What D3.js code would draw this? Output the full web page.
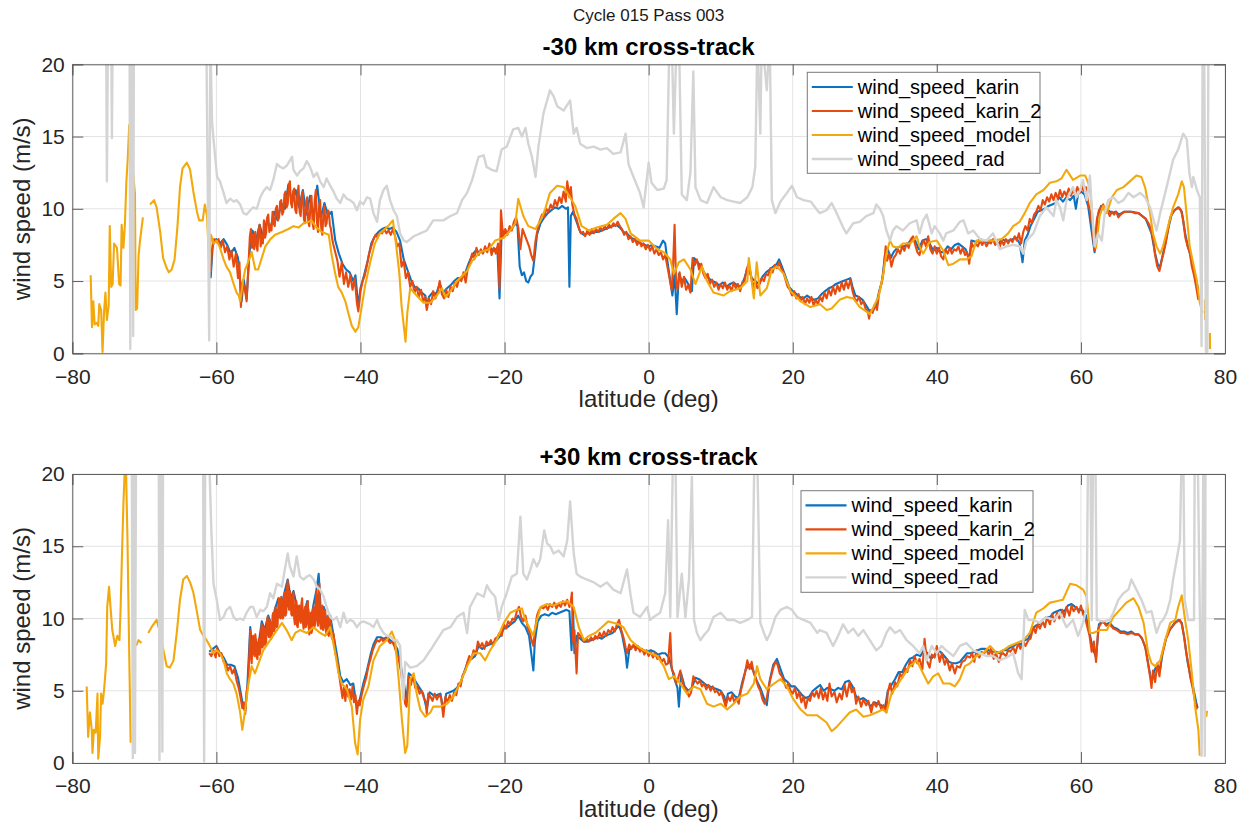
<!DOCTYPE html>
<html>
<head>
<meta charset="utf-8">
<script src="https://cdn.jsdelivr.net/npm/d3@7"></script>
<style>
body{margin:0;background:#ffffff;}
svg{display:block;font-family:"Liberation Sans",Arial,Helvetica,sans-serif;}
</style>
</head>
<body>
<svg id="fig"></svg>
<script>
//tick values and names
var xTicks = [-80,-60,-40,-20,0,20,40,60,80]
var yTicks = [0,5,10,15,20]
var seriesNames = ["wind_speed_karin","wind_speed_karin_2","wind_speed_model","wind_speed_rad"]
var panelTitles = ["-30 km cross-track","+30 km cross-track"]
var figTitle = "Cycle 015 Pass 003"

//-30 km cross-track  [latitude, wind speed]
var karinMinus = [
[-60.8,5.2],[-60.5,7.5],[-60.0,7.9],[-59.5,7.6],[-59.0,7.9],[-58.5,7.5],[-58.0,6.9],[-57.5,7.3],[-57.0,6.6],[-56.7,5.0],
[-56.5,3.6],[-56.2,5.1],[-55.8,3.8],[-55.4,7.0],[-55.0,8.5],[-54.5,7.8],[-54.0,8.9],[-53.5,8.0],[-53.0,9.2],[-52.5,8.6],
[-52.0,9.8],[-51.5,9.2],[-51.0,10.4],[-50.5,10.0],[-50.0,11.7],[-49.5,10.4],[-49.0,11.3],[-48.5,10.1],[-48.0,11.3],[-47.5,9.6],
[-47.0,10.9],[-46.5,9.4],[-46.0,11.6],[-45.5,9.4],[-45.0,10.4],[-44.5,9.5],[-44.0,9.8],[-43.5,7.8],[-43.0,6.9],[-42.5,6.2],
[-42.0,5.8],[-41.5,5.6],[-41.0,5.0],[-40.7,5.4],[-40.3,3.2],[-40.0,4.5],[-39.5,5.4],[-39.0,6.4],[-38.5,7.6],[-38.0,8.1],
[-37.5,8.4],[-37.0,8.6],[-36.5,8.7],[-36.0,8.6],[-35.5,8.7],[-35.0,8.4],[-34.5,7.8],[-34.0,6.5],[-33.5,5.8],[-33.0,5.1],
[-32.5,4.6],[-32.0,4.5],[-31.5,4.2],[-31.0,4.0],[-30.8,3.2],[-30.5,3.9],[-30.0,4.2],[-29.5,4.1],[-29.0,4.8],[-28.5,4.2],
[-28.0,4.5],[-27.5,4.7],[-27.0,5.0],[-26.5,5.2],[-26.0,5.2],[-25.5,5.5],[-25.0,6.2],[-24.5,6.8],[-24.0,7.1],[-23.5,7.0],
[-23.0,7.0],[-22.5,7.2],[-22.0,7.3],[-21.5,7.1],[-21.0,7.3],[-20.7,3.8],[-20.4,8.6],[-20.0,8.3],[-19.5,8.4],[-19.0,8.6],
[-18.5,9.0],[-18.2,8.8],[-17.9,6.0],[-17.6,5.4],[-17.3,5.6],[-17.0,5.0],[-16.7,4.9],[-16.4,5.3],[-16.1,5.5],[-15.8,6.8],
[-15.5,8.2],[-15.0,9.0],[-14.5,9.4],[-14.0,9.7],[-13.5,9.9],[-13.0,10.1],[-12.5,10.0],[-12.0,10.2],[-11.5,10.0],[-11.2,10.1],
[-11.0,4.6],[-10.8,9.5],[-10.5,9.8],[-10.0,9.1],[-9.5,8.4],[-9.0,8.2],[-8.5,8.3],[-8.0,8.3],[-7.5,8.4],[-7.0,8.4],
[-6.5,8.5],[-6.0,8.6],[-5.5,8.7],[-5.0,8.8],[-4.5,8.9],[-4.0,8.7],[-3.5,8.4],[-3.0,8.3],[-2.5,8.0],[-2.0,7.9],
[-1.5,7.7],[-1.0,7.6],[-0.5,7.5],[0.0,7.4],[0.5,7.5],[1.0,7.4],[1.5,7.3],[2.0,7.8],[2.3,7.6],[2.6,6.4],
[3.0,5.0],[3.3,4.0],[3.6,5.5],[3.9,2.7],[4.2,5.5],[4.6,5.0],[5.0,5.2],[5.5,4.8],[6.0,4.3],[6.3,6.6],
[6.8,6.3],[7.3,6.0],[7.8,5.5],[8.3,5.2],[8.8,5.0],[9.3,4.9],[9.8,4.7],[10.3,4.9],[10.8,4.6],[11.3,4.8],
[11.8,4.9],[12.3,4.7],[12.8,4.6],[13.3,5.2],[13.8,6.0],[14.3,5.2],[14.8,5.0],[15.3,4.8],[15.8,5.3],[16.3,5.6],
[16.8,5.8],[17.3,6.0],[17.8,6.2],[18.1,6.5],[18.5,6.0],[19.0,5.3],[19.5,4.6],[20.0,4.3],[20.5,4.1],[21.0,3.9],
[21.5,3.8],[22.0,4.0],[22.5,3.8],[23.0,3.7],[23.5,3.8],[24.0,4.1],[24.5,4.3],[25.0,4.5],[25.5,4.6],[26.0,4.8],
[26.5,4.9],[27.0,5.0],[27.5,5.1],[28.0,5.2],[28.3,4.6],[28.7,4.0],[29.2,3.9],[29.7,3.7],[30.2,3.3],[30.7,2.9],
[31.2,3.0],[31.6,3.4],[32.0,4.3],[32.4,5.0],[32.8,6.8],[33.2,7.2],[33.6,6.6],[34.0,7.0],[34.5,7.3],[35.0,7.4],
[35.5,7.4],[36.0,7.6],[36.5,7.9],[37.0,7.8],[37.5,7.2],[38.0,7.8],[38.5,7.9],[39.0,7.6],[39.5,7.1],[40.0,7.3],
[40.5,7.0],[41.0,7.0],[41.5,7.4],[42.0,7.2],[42.5,7.5],[43.0,7.6],[43.5,7.4],[44.0,7.2],[44.5,6.5],[44.8,7.8],
[45.5,7.7],[46.0,7.9],[46.5,7.8],[47.0,7.7],[47.5,7.8],[48.0,7.8],[48.5,7.5],[49.0,7.9],[49.5,7.8],[50.0,7.8],
[50.5,7.9],[51.0,8.0],[51.5,7.6],[51.9,6.3],[52.2,7.8],[52.6,8.2],[53.0,8.8],[53.5,9.3],[54.0,9.8],[54.5,9.9],
[55.0,10.0],[55.5,10.2],[56.0,10.3],[56.5,10.4],[57.0,10.8],[57.5,10.5],[58.0,10.8],[58.5,10.6],[59.0,10.9],[59.3,10.0],
[59.6,11.0],[60.0,11.2],[60.5,11.0],[61.0,10.2],[61.5,8.4],[61.9,7.0],[62.3,9.4],[62.8,10.2],[63.3,10.0],[63.8,9.9],
[64.3,9.7],[64.8,9.8],[65.3,9.6],[66.0,9.8],[67.0,9.8],[68.0,9.7],[69.0,9.3],[69.8,8.3],[70.3,6.9],[70.7,6.1],
[71.0,6.0],[71.4,6.9],[71.8,7.8],[72.2,8.8],[72.6,9.6],[73.0,9.9],[73.5,10.1],[74.0,9.8],[74.5,8.2],[74.9,7.3],
[75.3,6.6],[75.7,5.8],[76.0,5.0],[76.3,4.4]
]

var karin2Minus = [
[-60.8,5.6],[-60.6,7.2],[-60.3,7.9],[-60.0,7.7],[-59.7,7.9],[-59.4,7.3],[-59.1,7.8],[-58.8,7.0],[-58.5,7.4],[-58.2,6.5],
[-57.9,7.1],[-57.6,6.0],[-57.3,6.9],[-57.0,5.2],[-56.8,6.3],[-56.6,3.2],[-56.4,4.9],[-56.1,4.6],[-55.8,3.6],
[-55.5,6.6],[-55.35,8.1],[-55.2,8.6],[-55.05,7.3],[-54.9,8.2],[-54.75,7.2],[-54.6,8.4],[-54.45,7.5],[-54.3,7.1],[-54.15,8.5],
[-54.0,8.9],[-53.85,7.4],[-53.7,8.2],[-53.55,7.6],[-53.4,9.2],[-53.25,8.0],[-53.1,8.3],[-52.95,9.4],[-52.8,9.6],[-52.65,8.4],
[-52.5,8.9],[-52.35,8.5],[-52.2,9.8],[-52.05,9.0],[-51.9,8.8],[-51.75,10.0],[-51.6,10.2],[-51.45,9.2],[-51.3,9.4],[-51.15,10.5],
[-51.0,10.6],[-50.85,9.6],[-50.7,9.8],[-50.55,11.0],[-50.4,11.2],[-50.25,10.1],[-50.1,10.3],[-49.95,11.6],[-49.8,11.9],[-49.65,10.4],
[-49.5,10.1],[-49.35,11.2],[-49.2,11.4],[-49.05,9.9],[-48.9,9.7],[-48.75,11.0],[-48.6,11.6],[-48.45,9.8],[-48.3,9.5],[-48.15,10.9],
[-48.0,11.2],[-47.85,9.3],[-47.7,9.0],[-47.55,10.4],[-47.4,10.8],[-47.25,9.1],[-47.1,8.8],[-46.95,10.2],[-46.8,10.9],[-46.65,9.0],
[-46.5,8.6],[-46.35,10.6],[-46.2,11.3],[-46.05,9.2],[-45.9,8.4],[-45.75,10.1],[-45.6,10.6],[-45.45,8.7],[-45.3,8.2],[-45.15,9.6],
[-45.0,10.2],[-44.85,8.8],[-44.7,9.0],[-44.55,9.9],[-44.4,9.8],[-44.25,8.9],[-44.1,8.6],[-43.95,8.0],[-43.8,7.6],[-43.5,7.0],
[-43.2,6.4],[-42.9,5.3],[-42.6,6.3],[-42.3,4.8],[-42.0,5.6],[-41.7,4.6],[-41.4,5.4],[-41.1,4.4],[-40.8,5.2],[-40.5,3.5],
[-40.3,2.9],[-40.0,4.3],[-39.7,5.0],[-39.4,5.4],[-39.1,6.1],[-38.8,6.9],[-38.5,7.4],[-38.2,7.9],[-37.9,8.2],[-37.6,8.0],
[-37.3,8.4],[-37.0,8.3],[-36.7,8.6],[-36.4,8.3],[-36.1,8.5],[-35.8,8.2],[-35.5,8.6],[-35.2,8.1],[-34.9,7.4],[-34.6,7.6],
[-34.3,6.0],[-34.0,6.4],[-33.7,5.2],[-33.4,5.6],[-33.1,4.6],[-32.8,5.0],[-32.5,4.2],[-32.2,4.6],[-31.9,3.9],[-31.6,4.4],
[-31.3,3.6],[-31.0,3.9],[-30.8,3.0],[-30.5,3.8],[-30.2,3.4],[-29.9,4.3],[-29.6,3.8],[-29.3,4.2],[-29.0,5.0],[-28.7,4.1],
[-28.4,3.8],[-28.1,4.4],[-27.8,3.9],[-27.5,4.6],[-27.2,4.3],[-26.9,4.9],[-26.6,4.6],[-26.3,5.2],[-26.0,5.0],[-25.7,5.6],
[-25.4,4.9],[-25.1,5.9],[-24.8,6.3],[-24.5,6.9],[-24.2,6.5],[-23.9,7.3],[-23.6,6.8],[-23.3,7.2],[-23.0,6.9],[-22.7,7.4],
[-22.4,7.0],[-22.1,7.6],[-21.8,6.8],[-21.5,7.3],[-21.2,6.9],[-20.9,7.6],[-20.7,4.5],[-20.5,9.9],[-20.2,8.0],[-19.9,8.6],
[-19.6,8.2],[-19.3,8.8],[-19.0,8.5],[-18.7,9.1],[-18.4,9.4],[-18.1,8.7],[-17.8,7.2],[-17.5,8.6],[-17.2,8.2],[-16.9,7.8],
[-16.6,7.4],[-16.3,6.8],[-16.0,6.4],[-15.7,7.8],[-15.4,8.6],[-15.1,9.2],[-14.8,9.6],[-14.5,9.4],[-14.2,10.0],[-13.9,9.8],
[-13.6,10.3],[-13.3,10.0],[-13.0,10.6],[-12.7,10.2],[-12.4,10.8],[-12.1,10.4],[-11.8,11.2],[-11.5,10.5],[-11.3,11.9],[-11.0,10.8],
[-10.8,11.5],[-10.6,10.3],[-10.3,9.6],[-10.0,9.3],[-9.7,8.7],[-9.4,8.3],[-9.1,8.4],[-8.8,8.1],[-8.5,8.5],[-8.2,8.2],
[-7.9,8.6],[-7.6,8.3],[-7.3,8.6],[-7.0,8.4],[-6.7,8.7],[-6.4,8.5],[-6.1,8.8],[-5.8,8.6],[-5.5,8.9],[-5.2,8.7],
[-4.9,9.0],[-4.6,8.8],[-4.3,9.1],[-4.0,8.8],[-3.7,8.6],[-3.4,8.2],[-3.1,8.4],[-2.8,7.9],[-2.5,8.1],[-2.2,7.7],
[-1.9,7.9],[-1.6,7.5],[-1.3,7.8],[-1.0,7.4],[-0.7,7.6],[-0.4,7.2],[-0.1,7.5],[0.2,7.1],[0.5,7.4],[0.8,6.9],
[1.1,7.2],[1.4,6.8],[1.7,7.0],[2.0,6.5],[2.3,6.8],[2.6,6.0],[2.9,5.2],[3.2,4.4],[3.4,6.2],[3.6,8.9],
[3.8,5.0],[4.0,4.4],[4.3,5.6],[4.6,4.6],[4.9,5.3],[5.2,4.4],[5.5,4.7],[5.8,4.2],[6.1,6.6],[6.4,6.1],
[6.7,6.5],[7.0,5.8],[7.3,6.2],[7.6,5.5],[7.9,5.2],[8.2,5.5],[8.5,4.8],[8.8,5.1],[9.1,4.6],[9.4,4.9],
[9.7,4.4],[10.0,4.8],[10.3,4.5],[10.6,4.9],[10.9,4.4],[11.2,4.7],[11.5,4.3],[11.8,4.9],[12.1,4.5],[12.4,4.8],
[12.7,4.3],[13.0,4.9],[13.3,5.0],[13.6,5.8],[13.9,6.2],[14.2,5.4],[14.5,4.6],[14.8,5.0],[15.1,4.5],[15.4,4.8],
[15.7,5.2],[16.0,5.0],[16.3,5.5],[16.6,5.4],[16.9,5.9],[17.2,5.6],[17.5,6.1],[17.8,5.9],[18.1,6.3],[18.4,5.9],
[18.7,5.6],[19.0,5.1],[19.3,4.6],[19.6,4.4],[19.9,4.0],[20.2,4.3],[20.5,3.8],[20.8,4.1],[21.1,3.6],[21.4,3.9],
[21.7,3.4],[22.0,3.8],[22.3,3.5],[22.6,3.9],[22.9,3.3],[23.2,3.7],[23.5,3.4],[23.8,3.9],[24.1,3.6],[24.4,4.2],
[24.7,3.8],[25.0,4.4],[25.3,4.0],[25.6,4.6],[25.9,4.1],[26.2,4.7],[26.5,4.3],[26.8,4.9],[27.1,4.4],[27.4,5.0],
[27.7,4.5],[28.0,5.1],[28.3,4.3],[28.6,3.8],[28.9,3.6],[29.2,3.9],[29.5,3.4],[29.8,3.6],[30.1,3.1],[30.4,2.9],
[30.6,2.4],[30.8,3.0],[31.1,2.8],[31.4,3.4],[31.7,3.0],[32.0,4.2],[32.3,4.8],[32.6,5.6],[32.9,7.4],[33.1,6.4],
[33.4,6.9],[33.7,6.0],[34.0,6.6],[34.3,6.8],[34.6,7.2],[34.9,6.9],[35.2,7.4],[35.5,7.1],[35.8,7.6],[36.1,7.3],
[36.4,7.9],[36.7,8.1],[37.0,7.5],[37.3,7.0],[37.6,6.8],[37.9,7.5],[38.2,7.8],[38.5,7.4],[38.8,8.1],[39.1,7.2],
[39.4,6.9],[39.7,7.4],[40.0,6.9],[40.3,7.3],[40.6,6.7],[40.9,6.5],[41.2,7.2],[41.5,6.9],[41.8,7.3],[42.1,6.9],
[42.4,7.2],[42.7,7.1],[43.0,7.4],[43.3,6.9],[43.6,7.3],[43.9,6.8],[44.2,7.0],[44.5,6.2],[44.8,7.7],[45.1,7.3],
[45.4,7.6],[45.7,7.4],[46.0,7.8],[46.3,7.5],[46.6,7.8],[46.9,7.4],[47.2,7.7],[47.5,7.6],[47.8,7.9],[48.1,7.5],
[48.4,7.7],[48.7,7.3],[49.0,7.8],[49.3,7.5],[49.6,7.9],[49.9,7.6],[50.2,7.9],[50.5,7.7],[50.8,8.1],[51.1,7.8],
[51.4,8.3],[51.7,7.6],[52.0,8.4],[52.3,8.8],[52.6,8.5],[52.9,9.3],[53.2,9.0],[53.5,9.6],[53.8,9.8],[54.1,10.2],
[54.4,9.9],[54.7,10.6],[55.0,10.3],[55.3,10.8],[55.6,10.5],[55.9,11.0],[56.2,10.6],[56.5,11.1],[56.8,10.7],[57.1,11.3],
[57.4,10.8],[57.7,11.2],[58.0,10.9],[58.3,11.4],[58.6,10.9],[58.9,11.3],[59.2,11.0],[59.5,11.5],[59.8,11.1],[60.1,11.6],
[60.4,11.2],[60.7,11.5],[61.0,10.4],[61.3,9.8],[61.6,8.6],[61.9,7.1],[62.2,9.2],[62.5,9.9],[62.8,10.1],[63.1,10.3],
[63.4,9.7],[63.7,9.9],[64.0,9.5],[64.3,9.8],[64.6,9.6],[64.9,9.8],[65.2,9.4],[65.5,9.6],[65.8,9.7],[66.1,9.8],
[66.5,9.8],[67.0,9.8],[67.5,9.7],[68.0,9.7],[68.5,9.5],[69.0,9.3],[69.5,8.9],[70.0,8.0],[70.3,6.8],[70.6,6.0],
[70.9,5.7],[71.2,6.4],[71.5,7.0],[71.8,7.7],[72.1,8.6],[72.4,9.4],[72.7,9.7],[73.0,9.9],[73.3,10.0],[73.6,10.1],
[73.9,9.9],[74.2,9.2],[74.5,8.0],[74.8,7.4],[75.1,7.0],[75.4,6.0],[75.7,5.4],[76.0,4.6],[76.3,3.7]
]

var modelMinus = [
[-77.45,5.4],[-77.27,1.8],[-77.08,3.6],[-76.9,2.0],[-76.6,2.1],[-76.4,1.9],[-76.25,3.4],[-76.0,3.0],[-75.8,0.1],[-75.6,2.8],
[-75.4,4.2],[-75.2,2.3],[-74.95,3.3],[-74.8,8.8],[-74.6,4.6],[-74.4,4.8],[-74.2,7.6],[-73.8,7.3],[-73.5,4.8],[-73.3,4.7],
[-73.15,8.9],[-72.9,7.3],[-72.7,8.9],[-72.5,11.8],[-72.3,13.5],[-72.1,15.8],[-71.3,11.0],[-71.2,3.0],[-71.0,3.1],[-70.8,6.8],
[-70.6,7.8],[-70.2,9.4],[-69.8,null],[-69.2,10.3],[-68.65,10.6],[-68.3,10.1],[-67.8,8.4],[-67.4,6.6],[-66.9,5.9],[-66.6,5.6],
[-66.2,5.8],[-65.8,6.5],[-65.4,8.8],[-65.05,11.5],[-64.7,12.8],[-64.1,13.2],[-63.65,12.7],[-63.2,11.2],[-62.7,9.8],[-62.4,9.2],
[-61.9,9.2],[-61.6,10.3],[-61.3,9.5],[-61.0,6.2],[-60.75,8.2],[-60.4,7.6],[-59.95,7.8],[-59.5,7.3],[-59.0,6.5],[-58.6,6.0],
[-58.1,5.6],[-57.6,4.8],[-57.2,4.2],[-56.9,4.0],[-56.7,3.6],[-56.3,5.0],[-56.0,5.8],[-55.6,6.3],[-55.1,7.0],[-54.6,5.8],
[-54.2,5.8],[-53.7,6.6],[-53.2,7.4],[-52.5,7.9],[-51.85,8.2],[-50.9,8.4],[-50.0,8.6],[-49.3,8.8],[-48.6,8.7],[-47.9,9.0],
[-47.2,9.1],[-46.8,9.2],[-46.1,8.7],[-45.4,8.4],[-44.4,8.2],[-44.0,6.8],[-43.5,5.5],[-43.1,4.6],[-42.6,4.2],[-42.1,3.6],
[-41.7,2.8],[-41.2,1.9],[-40.7,1.5],[-40.3,1.8],[-39.8,3.3],[-39.35,4.7],[-38.65,6.3],[-38.0,7.6],[-37.3,8.3],[-36.6,8.6],
[-36.0,8.9],[-35.5,9.2],[-35.05,7.5],[-34.6,5.5],[-34.3,3.3],[-33.9,1.5],[-33.75,0.8],[-33.5,2.8],[-33.1,4.5],[-32.2,4.0],
[-31.25,3.5],[-30.3,3.5],[-29.4,4.0],[-28.7,4.5],[-28.2,3.9],[-27.5,4.3],[-26.6,5.0],[-25.2,5.7],[-24.5,6.4],[-23.4,7.0],
[-22.2,7.2],[-21.3,7.8],[-20.1,8.0],[-19.2,8.5],[-18.5,9.0],[-18.1,10.7],[-17.4,9.5],[-16.7,8.8],[-15.7,8.6],[-15.0,9.2],
[-14.35,10.0],[-13.7,11.1],[-12.7,11.6],[-11.8,11.5],[-10.9,10.8],[-10.2,10.2],[-9.3,8.8],[-8.3,8.5],[-7.2,8.7],[-5.8,8.9],
[-4.9,9.3],[-3.9,9.7],[-3.2,9.3],[-2.5,8.3],[-1.2,7.8],[0.0,7.8],[1.2,7.2],[2.1,7.0],[3.0,6.5],[3.5,5.5],
[4.2,6.3],[4.9,6.5],[5.8,5.8],[6.5,4.8],[7.4,6.0],[8.1,5.0],[9.0,4.2],[10.4,4.0],[11.3,4.3],[12.7,4.5],
[13.7,5.0],[13.9,6.6],[14.6,3.8],[15.0,6.3],[15.5,4.0],[16.4,4.5],[17.1,5.8],[17.8,6.0],[18.75,5.5],[19.7,4.3],
[21.1,3.6],[22.45,3.2],[23.8,3.4],[24.7,3.0],[25.4,3.1],[26.5,3.7],[27.5,3.9],[28.4,3.8],[29.3,3.2],[30.2,2.9],
[30.7,2.7],[31.2,3.2],[31.9,3.9],[32.5,5.3],[33.0,6.9],[33.5,7.8],[33.9,7.4],[34.6,7.3],[35.3,7.6],[36.3,7.6],
[37.2,8.1],[37.6,7.4],[38.1,6.9],[39.0,7.7],[40.0,7.8],[40.9,7.1],[41.6,6.1],[42.3,6.2],[43.2,6.5],[44.1,6.5],
[44.8,6.7],[45.5,7.8],[46.9,7.8],[47.8,7.8],[49.0,7.9],[49.9,8.3],[50.6,8.8],[51.5,9.1],[52.2,9.7],[52.9,10.4],
[53.8,11.0],[54.8,11.3],[55.7,11.8],[56.6,11.9],[57.3,12.1],[58.0,12.7],[58.9,12.0],[59.9,12.3],[60.6,12.3],[61.25,11.5],
[61.7,8.8],[62.1,7.3],[62.6,9.5],[63.1,10.2],[63.6,9.7],[64.3,10.8],[65.0,11.3],[65.9,11.5],[66.8,11.9],[67.7,12.3],
[68.4,12.2],[68.9,11.5],[69.6,9.7],[70.0,8.3],[70.5,7.4],[71.0,6.9],[71.4,7.4],[72.1,8.8],[72.8,10.1],[73.5,11.0],
[74.0,11.9],[74.3,11.5],[74.7,9.5],[75.1,7.4],[75.6,6.2],[76.1,5.0],[76.5,3.5],[76.9,2.8],[77.05,null],[77.2,3.7],
[77.25,2.3],[77.5,null],[77.9,1.4],[77.92,0.3]
]

var radMinus = [
[-75.3,22],[-75.2,11.9],[-75.05,22],[-74.6,22],[-74.5,14.9],[-74.4,22],[-72.05,22],[-71.95,0.3],[-71.8,22],[-71.65,22],
[-71.55,1.2],[-71.45,22],[-61.4,22],[-61.0,0.9],[-60.85,22],[-60.6,16.0],[-60.4,14.8],[-59.9,12.2],[-59.5,11.9],[-59.0,11.1],
[-58.6,10.4],[-58.1,10.7],[-57.6,10.5],[-57.2,10.6],[-56.7,10.3],[-56.25,9.7],[-55.8,9.6],[-55.3,9.9],[-54.9,10.1],[-54.4,10.0],
[-53.9,10.8],[-53.5,11.2],[-53.0,11.5],[-52.55,11.3],[-52.1,12.0],[-51.6,13.1],[-51.15,12.9],[-50.7,12.8],[-50.2,13.0],[-49.5,13.6],
[-49.3,12.7],[-48.8,12.3],[-48.4,12.6],[-47.9,12.8],[-47.45,13.3],[-47.0,12.9],[-46.5,12.2],[-46.05,12.5],[-45.6,11.9],[-45.1,11.5],
[-44.7,12.1],[-44.2,11.6],[-43.75,11.2],[-43.3,10.7],[-42.8,10.4],[-42.35,11.0],[-41.9,10.7],[-41.45,10.6],[-40.95,10.4],[-40.5,9.9],
[-40.05,10.5],[-39.6,10.3],[-39.1,10.8],[-38.65,10.7],[-38.2,9.7],[-37.7,9.1],[-37.3,10.6],[-36.8,11.3],[-36.35,11.6],[-35.9,10.6],
[-35.4,9.9],[-34.95,9.5],[-34.5,8.3],[-34.0,7.8],[-33.55,7.7],[-32.6,8.1],[-31.7,8.3],[-30.8,8.5],[-29.9,9.2],[-28.5,9.2],
[-27.5,9.5],[-26.6,9.7],[-25.9,10.6],[-25.2,11.1],[-24.5,12.0],[-23.6,13.6],[-22.9,13.7],[-22.5,12.9],[-21.8,12.7],[-21.1,12.6],
[-20.4,14.1],[-19.7,14.3],[-18.8,15.5],[-18.1,15.6],[-17.6,15.0],[-17.1,15.6],[-16.7,14.5],[-16.2,13.6],[-15.7,12.2],[-15.3,14.3],
[-14.6,16.6],[-13.7,18.2],[-13.2,17.8],[-12.7,17.1],[-11.8,16.8],[-10.9,17.5],[-10.4,15.2],[-10.0,15.6],[-9.5,14.5],[-8.6,14.2],
[-7.6,14.3],[-6.7,14.1],[-5.8,14.2],[-4.9,13.8],[-3.9,13.9],[-3.2,15.2],[-2.8,13.1],[-2.1,12.2],[-1.2,11.1],[-0.7,10.1],
[0.0,13.2],[0.4,11.8],[1.2,11.3],[2.1,11.4],[2.5,12.0],[2.9,22],[3.2,22],[3.5,15.2],[3.9,22],[4.2,22],
[4.6,11.0],[5.3,10.6],[5.8,12.5],[6.2,19.5],[6.5,11.5],[7.2,10.6],[8.1,10.4],[9.0,11.5],[10.0,10.8],[10.9,10.6],
[11.8,10.5],[12.7,10.4],[13.7,10.8],[14.4,11.5],[14.8,12.9],[15.1,22],[15.5,15.2],[15.7,22],[16.4,18.2],[16.8,22],
[17.1,10.6],[17.6,9.7],[18.3,10.5],[19.2,11.1],[19.9,11.6],[20.6,10.8],[21.5,10.6],[22.5,10.5],[23.4,9.9],[23.75,9.7],
[24.7,9.9],[25.4,10.4],[26.1,9.7],[27.0,8.7],[27.45,8.3],[28.4,9.0],[29.3,9.1],[30.2,9.5],[31.2,9.7],[31.6,10.3],
[32.1,10.0],[32.55,9.5],[33.0,8.5],[33.5,7.8],[33.9,8.5],[34.4,8.8],[35.3,8.5],[36.25,9.0],[37.2,9.2],[37.6,8.3],
[38.1,9.2],[38.6,9.6],[39.3,8.3],[39.7,8.8],[40.4,8.3],[40.9,7.8],[41.3,8.3],[42.3,8.5],[43.2,9.1],[43.7,9.2],
[44.35,8.3],[45.05,8.5],[46.0,7.9],[46.9,7.8],[47.8,8.3],[48.75,7.2],[49.7,7.4],[50.6,7.5],[51.5,7.4],[52.0,6.9],
[52.45,7.8],[53.4,8.3],[54.3,9.5],[55.2,10.1],[56.2,9.5],[56.6,10.6],[57.1,10.1],[57.55,9.2],[58.0,10.6],[58.5,11.1],
[58.9,11.5],[59.4,10.8],[59.9,11.3],[60.3,12.0],[60.8,10.6],[61.25,12.3],[61.5,10.1],[61.9,7.4],[62.4,8.3],[62.9,7.8],
[63.3,9.7],[63.8,10.6],[64.5,10.8],[65.2,10.4],[65.9,10.6],[66.6,11.1],[67.3,10.8],[68.2,11.1],[68.9,10.8],[69.6,10.1],
[70.5,8.5],[71.0,9.7],[71.9,11.5],[72.8,13.4],[73.5,14.1],[74.2,15.2],[74.7,14.8],[75.05,12.5],[75.4,11.5],[75.6,12.2],
[76.1,11.3],[76.5,10.8],[76.75,0.5],[76.9,22],[77.1,22],[77.35,0.1],[77.55,0.1],[77.7,22],[77.8,22]
]

//+30 km cross-track  [latitude, wind speed]
var karinPlus = [
[-61.0,7.7],[-60.5,7.9],[-60.0,8.1],[-59.5,7.6],[-59.0,7.3],[-58.5,6.8],[-58.0,6.8],[-57.5,6.7],[-57.0,5.9],[-56.6,4.8],
[-56.3,3.9],[-56.0,3.6],[-55.7,5.4],[-55.3,9.4],[-55.0,7.6],[-54.6,8.6],[-54.2,8.0],[-53.7,9.8],[-53.3,9.2],[-52.8,10.2],
[-52.3,9.4],[-51.9,10.6],[-51.4,11.4],[-50.9,11.0],[-50.5,11.9],[-50.1,12.7],[-49.7,11.4],[-49.3,11.9],[-48.8,10.8],[-48.4,10.6],
[-47.9,10.1],[-47.4,11.2],[-47.0,9.6],[-46.5,11.0],[-46.1,12.0],[-45.8,13.1],[-45.5,10.4],[-45.1,10.8],[-44.7,9.8],[-44.2,10.2],
[-43.8,9.0],[-43.3,7.6],[-42.8,6.0],[-42.4,5.6],[-41.9,5.8],[-41.4,5.4],[-41.0,5.5],[-40.5,3.8],[-40.1,4.4],[-39.6,5.5],
[-39.1,6.4],[-38.6,7.5],[-38.2,8.2],[-37.7,8.7],[-37.2,8.7],[-36.8,8.6],[-36.3,8.7],[-35.9,8.5],[-35.4,8.3],[-34.9,7.9],
[-34.5,7.0],[-34.0,5.6],[-33.6,4.3],[-33.3,6.2],[-32.8,6.0],[-32.3,5.6],[-31.8,5.2],[-31.3,4.8],[-30.8,3.7],[-30.4,4.9],
[-29.9,4.7],[-29.4,4.7],[-28.9,4.8],[-28.5,3.6],[-28.1,4.8],[-27.6,4.9],[-27.1,5.0],[-26.6,5.2],[-26.1,5.6],[-25.6,6.3],
[-25.1,7.0],[-24.6,7.2],[-24.1,7.4],[-23.6,8.1],[-23.1,7.9],[-22.6,8.1],[-22.1,8.2],[-21.6,8.3],[-21.1,8.5],[-20.6,8.8],
[-20.1,9.3],[-19.6,9.4],[-19.1,9.6],[-18.6,9.8],[-18.1,10.2],[-17.6,9.7],[-17.1,9.4],[-16.6,8.8],[-16.2,7.2],[-16.0,6.4],
[-15.8,8.4],[-15.4,9.8],[-14.9,10.2],[-14.4,10.3],[-13.9,10.2],[-13.4,10.4],[-12.9,10.3],[-12.4,10.4],[-11.9,10.5],[-11.4,10.6],
[-11.0,10.5],[-10.7,7.8],[-10.5,10.6],[-10.3,7.6],[-10.0,8.8],[-9.5,8.6],[-9.0,8.4],[-8.5,8.4],[-8.0,8.5],[-7.5,8.6],
[-7.0,8.7],[-6.5,8.6],[-6.0,8.8],[-5.5,8.9],[-5.0,9.0],[-4.5,9.3],[-4.1,9.5],[-3.7,8.9],[-3.2,7.6],[-3.0,6.6],
[-2.7,7.8],[-2.2,8.1],[-1.7,8.0],[-1.2,7.9],[-0.7,7.8],[-0.2,7.7],[0.3,7.8],[0.8,7.7],[1.3,7.5],[1.8,7.6],
[2.3,7.6],[2.8,7.3],[3.2,6.6],[3.6,5.8],[4.0,5.2],[4.2,3.9],[4.5,6.2],[5.0,5.3],[5.5,5.0],[6.0,5.2],
[6.5,5.9],[7.0,5.8],[7.5,5.6],[8.0,5.4],[8.5,5.3],[9.0,5.2],[9.5,5.1],[10.0,5.0],[10.5,4.6],[10.7,4.0],
[11.0,4.8],[11.5,4.9],[12.0,4.6],[12.5,4.5],[13.0,5.6],[13.5,6.5],[14.0,6.8],[14.5,6.4],[15.0,5.7],[15.5,5.2],
[16.0,4.5],[16.4,4.0],[16.8,5.7],[17.3,6.8],[17.8,7.2],[18.3,6.5],[18.8,5.8],[19.3,5.6],[19.8,5.3],[20.3,5.3],
[20.8,5.0],[21.3,4.7],[21.8,4.5],[22.3,4.6],[22.8,5.0],[23.3,5.2],[23.8,5.4],[24.3,5.0],[24.8,5.2],[25.3,5.1],
[25.8,5.0],[26.3,5.2],[26.8,5.1],[27.3,5.6],[27.8,5.7],[28.3,5.3],[28.8,4.6],[29.3,4.4],[29.8,4.5],[30.3,4.3],
[30.8,3.9],[31.3,4.2],[31.8,4.1],[32.3,4.0],[32.8,3.8],[33.2,5.0],[33.7,5.4],[34.2,5.8],[34.7,6.3],[35.2,6.3],
[35.7,6.8],[36.2,7.2],[36.7,7.3],[37.2,7.5],[37.7,7.4],[38.2,7.8],[38.7,7.6],[39.2,7.2],[39.7,7.5],[40.2,7.8],
[40.7,7.6],[41.2,7.3],[41.7,7.0],[42.2,6.9],[42.7,6.9],[43.2,7.0],[43.7,7.3],[44.2,7.6],[44.7,7.6],[45.2,7.7],
[45.7,7.8],[46.2,7.9],[46.7,7.9],[47.2,7.8],[47.7,7.7],[48.2,7.7],[48.7,7.6],[49.2,7.8],[49.7,7.8],[50.2,8.0],
[50.7,8.1],[51.2,8.3],[51.7,8.2],[52.2,8.5],[52.7,8.6],[53.2,9.2],[53.7,9.5],[54.2,9.6],[54.7,9.9],[55.2,10.1],
[55.7,10.1],[56.2,10.4],[56.7,10.5],[57.2,10.6],[57.7,10.5],[58.2,10.9],[58.7,11.0],[59.2,10.8],[59.7,10.6],[60.2,10.6],
[60.7,10.2],[61.2,9.0],[61.6,8.0],[62.1,7.3],[62.5,9.6],[63.0,9.8],[63.5,9.6],[64.0,9.7],[64.5,9.4],[65.0,9.3],
[65.5,9.1],[66.0,9.1],[66.5,9.0],[67.0,9.1],[67.5,8.9],[68.0,8.9],[68.5,8.6],[69.0,7.9],[69.4,6.7],[69.8,5.6],
[70.2,6.4],[70.6,6.8],[71.0,6.5],[71.4,7.8],[71.8,8.6],[72.2,9.1],[72.6,9.4],[73.0,9.7],[73.5,9.9],[74.0,9.7],
[74.4,8.5],[74.8,7.0],[75.2,6.0],[75.6,5.2],[76.0,4.2],[76.2,3.8]
]

var karin2Plus = [
[-61.0,7.6],[-60.7,7.4],[-60.4,7.8],[-60.1,7.3],[-59.9,8.0],[-59.6,7.4],[-59.3,7.6],[-59.0,7.0],[-58.7,6.9],[-58.4,6.4],
[-58.1,6.7],[-57.8,6.2],[-57.5,6.5],[-57.2,5.7],[-56.9,5.2],[-56.6,4.4],[-56.4,3.8],[-56.2,4.2],[-56.0,3.4],[-55.8,4.9],
[-55.6,5.5],[-55.4,7.8],[-55.3,9.2],[-55.2,7.4],[-55.1,6.9],[-55.0,8.1],[-54.9,8.8],[-54.8,7.6],[-54.7,7.4],[-54.6,8.9],
[-54.5,8.4],[-54.4,7.3],[-54.3,7.2],[-54.2,8.2],[-54.1,8.6],[-54.0,7.5],[-53.9,7.8],[-53.8,9.1],[-53.7,9.6],[-53.6,8.0],
[-53.5,8.2],[-53.4,9.4],[-53.3,9.1],[-53.2,8.1],[-53.1,8.4],[-53.0,9.7],[-52.9,10.1],[-52.8,8.9],[-52.7,8.7],[-52.6,9.9],
[-52.5,9.5],[-52.4,8.6],[-52.3,8.9],[-52.2,10.2],[-52.1,10.4],[-52.0,9.1],[-51.9,9.3],[-51.8,10.8],[-51.7,10.6],[-51.6,9.4],
[-51.5,9.6],[-51.4,11.0],[-51.3,11.4],[-51.2,10.1],[-51.1,10.0],[-51.0,11.5],[-50.9,11.2],[-50.8,10.0],[-50.7,10.1],[-50.6,11.6],
[-50.5,11.8],[-50.4,10.2],[-50.3,10.4],[-50.2,12.0],[-50.1,12.6],[-50.0,10.9],[-49.9,10.6],[-49.8,11.9],[-49.7,11.6],[-49.6,10.3],
[-49.5,10.2],[-49.4,11.5],[-49.3,11.8],[-49.2,10.0],[-49.1,9.6],[-49.0,10.8],[-48.9,11.2],[-48.8,9.5],[-48.7,9.4],[-48.6,10.6],
[-48.5,10.9],[-48.4,9.9],[-48.3,9.7],[-48.2,11.0],[-48.1,11.4],[-48.0,9.8],[-47.9,9.3],[-47.8,10.4],[-47.7,10.8],[-47.6,9.4],
[-47.5,9.6],[-47.4,10.9],[-47.3,11.2],[-47.2,9.5],[-47.1,8.9],[-47.0,10.0],[-46.9,10.4],[-46.8,9.0],[-46.7,9.2],[-46.6,10.5],
[-46.5,10.8],[-46.4,9.4],[-46.3,9.6],[-46.2,11.2],[-46.1,11.9],[-46.0,9.9],[-45.9,9.5],[-45.8,11.6],[-45.7,12.4],[-45.6,9.7],
[-45.5,9.3],[-45.4,10.5],[-45.3,10.9],[-45.2,9.2],[-45.1,9.4],[-45.0,10.4],[-44.9,10.6],[-44.8,9.1],[-44.7,8.9],[-44.6,9.9],
[-44.5,10.2],[-44.4,8.8],[-44.3,9.0],[-44.2,9.9],[-44.1,9.7],[-44.0,8.7],[-43.9,8.6],[-43.8,9.0],[-43.7,8.8],
[-43.5,7.6],[-43.3,7.3],[-43.1,6.6],[-42.9,5.9],[-42.7,5.2],[-42.5,4.5],[-42.3,5.3],[-42.1,4.3],[-41.9,5.4],
[-41.7,4.6],[-41.5,5.1],[-41.3,4.4],[-41.1,5.3],[-40.9,4.2],[-40.7,4.7],[-40.5,3.4],[-40.3,4.3],[-40.1,4.0],[-39.8,4.8],
[-39.5,5.4],[-39.2,5.9],[-38.9,6.7],[-38.6,7.2],[-38.3,7.8],[-38.0,8.2],[-37.7,8.5],[-37.4,8.4],[-37.1,8.6],[-36.8,8.4],
[-36.5,8.6],[-36.2,8.5],[-35.9,8.3],[-35.6,8.4],[-35.3,8.1],[-35.0,7.6],[-34.7,7.2],[-34.4,6.4],[-34.1,5.3],[-33.8,4.1],
[-33.6,3.9],[-33.3,6.0],[-33.0,5.4],[-32.7,6.1],[-32.4,5.2],[-32.1,5.3],[-31.8,4.8],[-31.5,5.0],[-31.2,4.5],[-30.9,4.2],
[-30.8,3.4],[-30.6,4.8],[-30.3,4.6],[-30.0,4.3],[-29.7,4.8],[-29.4,4.4],[-29.1,4.7],[-28.8,4.5],[-28.5,3.2],[-28.2,4.6],
[-27.9,4.2],[-27.6,4.7],[-27.3,4.3],[-27.0,4.9],[-26.7,4.7],[-26.4,5.5],[-26.1,5.3],[-25.8,6.1],[-25.5,6.3],[-25.2,6.9],
[-24.9,7.4],[-24.6,7.2],[-24.3,7.8],[-24.0,7.5],[-23.7,8.4],[-23.4,8.0],[-23.1,8.3],[-22.8,7.9],[-22.5,8.4],[-22.2,8.2],
[-21.9,8.5],[-21.6,8.1],[-21.3,8.6],[-21.0,8.7],[-20.7,9.0],[-20.4,8.8],[-20.1,9.6],[-19.8,9.3],[-19.5,9.8],[-19.2,9.6],
[-18.9,10.0],[-18.6,9.9],[-18.3,10.5],[-18.0,10.8],[-17.7,10.1],[-17.4,9.8],[-17.1,10.2],[-16.8,9.4],[-16.5,9.0],[-16.2,8.4],
[-16.0,8.1],[-15.8,9.1],[-15.5,10.2],[-15.2,10.6],[-14.9,10.8],[-14.6,10.7],[-14.3,10.9],[-14.0,10.6],[-13.7,11.0],[-13.4,10.8],
[-13.1,11.1],[-12.8,10.7],[-12.5,11.0],[-12.2,10.8],[-11.9,11.2],[-11.6,10.9],[-11.3,11.3],[-11.0,10.8],[-10.8,11.2],[-10.65,11.8],
[-10.5,8.4],[-10.3,9.2],[-10.0,6.2],[-9.8,9.0],[-9.5,8.8],[-9.2,8.6],[-8.9,8.4],[-8.6,8.6],[-8.3,8.4],[-8.0,8.7],
[-7.7,8.5],[-7.4,8.8],[-7.1,8.6],[-6.8,9.0],[-6.5,8.7],[-6.2,9.1],[-5.9,8.8],[-5.6,9.2],[-5.3,9.0],[-5.0,9.4],
[-4.7,9.1],[-4.4,9.6],[-4.1,9.9],[-3.8,9.2],[-3.5,8.7],[-3.2,8.0],[-3.0,7.6],[-2.7,8.2],[-2.4,7.9],[-2.1,8.2],
[-1.8,7.8],[-1.5,8.1],[-1.2,7.7],[-0.9,7.9],[-0.6,7.5],[-0.3,7.8],[0.0,7.4],[0.3,7.7],[0.6,7.3],[0.9,7.6],
[1.2,7.2],[1.5,7.4],[1.8,7.0],[2.1,7.2],[2.4,6.8],[2.7,6.9],[3.0,9.0],[3.2,6.5],[3.5,6.2],[3.8,5.5],
[4.1,5.9],[4.4,6.4],[4.7,5.6],[5.0,5.2],[5.3,5.0],[5.6,4.6],[5.9,4.9],[6.2,6.0],[6.5,5.7],[6.8,5.5],
[7.1,5.7],[7.4,5.3],[7.7,5.5],[8.0,5.1],[8.3,5.4],[8.6,5.0],[8.9,5.3],[9.2,4.9],[9.5,5.0],[9.8,4.7],
[10.1,4.9],[10.4,4.4],[10.7,3.9],[11.0,4.6],[11.3,4.3],[11.6,4.7],[11.9,4.2],[12.2,4.5],[12.5,4.1],[12.8,5.0],
[13.1,5.6],[13.4,6.3],[13.7,7.1],[14.0,6.5],[14.3,7.0],[14.6,6.2],[14.9,5.8],[15.2,5.3],[15.5,5.0],[15.8,4.4],
[16.1,4.1],[16.4,4.5],[16.7,5.4],[17.0,6.0],[17.3,6.6],[17.6,7.0],[17.9,6.8],[18.2,6.2],[18.5,6.0],[18.8,5.6],
[19.1,5.2],[19.4,5.5],[19.7,5.0],[20.0,4.8],[20.3,5.2],[20.6,4.5],[20.9,4.9],[21.2,4.2],[21.5,4.6],[21.8,3.8],
[22.1,4.5],[22.4,4.3],[22.7,4.9],[23.0,4.6],[23.3,5.0],[23.6,4.5],[23.9,5.2],[24.2,4.4],[24.5,4.9],[24.8,4.3],
[25.1,5.5],[25.4,4.6],[25.8,4.9],[26.1,4.2],[26.5,4.8],[26.8,4.4],[27.2,5.4],[27.5,4.6],[27.9,5.6],[28.2,4.9],
[28.5,5.2],[28.8,4.1],[29.1,4.6],[29.5,3.9],[29.8,4.4],[30.2,4.0],[30.5,4.3],[30.9,3.5],[31.2,4.2],[31.6,3.9],
[31.9,4.3],[32.3,3.7],[32.6,4.0],[33.0,3.5],[33.2,4.9],[33.5,5.5],[33.8,4.8],[34.2,5.6],[34.5,5.3],[34.9,6.2],
[35.2,5.9],[35.6,6.6],[35.9,6.3],[36.3,7.1],[36.6,6.7],[36.9,7.4],[37.3,6.9],[37.6,7.2],[38.0,6.5],[38.3,8.6],
[38.6,7.1],[39.0,6.6],[39.3,7.5],[39.7,7.3],[40.0,8.1],[40.4,7.0],[40.7,7.6],[41.1,6.8],[41.4,7.2],[41.8,6.4],
[42.1,6.9],[42.5,6.2],[42.8,6.7],[43.2,6.6],[43.5,7.0],[43.9,7.1],[44.2,7.4],[44.6,7.3],[44.9,7.6],[45.2,7.0],
[45.5,7.8],[45.9,7.3],[46.2,7.7],[46.5,7.5],[46.9,7.9],[47.2,7.4],[47.5,7.9],[47.9,7.2],[48.2,7.6],[48.6,7.0],
[48.9,7.5],[49.2,7.6],[49.6,7.4],[49.9,7.8],[50.2,7.7],[50.6,8.0],[50.9,7.6],[51.3,8.3],[51.6,7.9],[52.0,8.4],
[52.3,8.1],[52.7,8.5],[53.0,8.6],[53.4,9.4],[53.7,9.0],[54.0,9.6],[54.3,9.3],[54.7,9.8],[55.0,9.4],[55.3,10.1],
[55.7,9.6],[56.0,10.3],[56.3,9.8],[56.7,10.4],[57.0,10.0],[57.4,10.6],[57.7,10.1],[58.0,10.8],[58.4,10.2],[58.7,10.9],
[59.0,10.5],[59.4,10.8],[59.7,10.4],[60.0,10.9],[60.3,10.3],[60.6,10.0],[60.9,9.4],[61.2,8.8],[61.5,7.7],[61.8,8.4],
[62.1,7.0],[62.4,9.3],[62.7,9.6],[63.1,9.8],[63.5,9.5],[64.0,9.6],[64.5,9.3],[65.0,9.2],[65.5,9.0],[66.0,9.0],
[66.5,8.9],[67.0,9.0],[67.5,8.9],[68.0,8.9],[68.4,8.7],[68.9,8.1],[69.3,6.9],[69.6,6.0],[69.8,5.2],[70.0,6.4],
[70.3,5.6],[70.6,6.9],[70.9,6.0],[71.2,7.4],[71.5,7.9],[71.8,8.6],[72.1,8.9],[72.4,9.3],[72.8,9.5],[73.1,9.7],
[73.4,9.8],[73.75,9.9],[74.0,9.6],[74.3,8.8],[74.6,7.7],[74.9,6.9],[75.2,5.9],[75.5,5.2],[75.8,4.4],[76.1,3.7]
]

var modelPlus = [
[-78.0,5.3],[-77.8,1.8],[-77.55,3.5],[-77.3,2.3],[-77.2,0.7],[-77.0,2.3],[-76.75,2.1],[-76.5,4.8],[-76.4,0.3],[-76.15,1.8],
[-76.0,4.8],[-75.8,4.1],[-75.6,5.0],[-75.3,6.9],[-75.15,10.8],[-74.9,12.2],[-74.7,10.8],[-74.45,9.2],[-74.05,8.1],[-73.75,8.8],
[-73.45,8.5],[-73.3,10.6],[-73.1,14.5],[-72.9,18.0],[-72.7,20.5],[-72.55,20.5],[-72.35,15.7],[-72.1,7.6],[-71.9,1.4],[-71.5,null],
[-71.15,8.1],[-70.8,8.5],[-70.4,8.3],[-69.9,null],[-69.45,9.0],[-69.0,9.4],[-68.3,9.9],[-67.8,9.0],[-67.35,7.8],[-66.9,6.7],
[-66.45,6.6],[-65.95,7.1],[-65.5,9.0],[-65.05,11.3],[-64.6,12.7],[-64.1,12.95],[-63.65,12.5],[-63.2,11.8],[-62.75,10.6],[-62.25,9.2],
[-61.8,8.8],[-61.35,8.5],[-60.9,8.1],[-60.4,7.6],[-59.95,7.8],[-59.5,7.6],[-59.0,7.1],[-58.55,6.2],[-58.1,5.8],[-57.65,5.5],
[-57.2,4.8],[-56.7,3.5],[-56.4,2.3],[-56.0,3.7],[-55.55,5.5],[-55.1,6.7],[-54.65,6.2],[-54.15,6.9],[-53.5,7.8],[-52.55,8.5],
[-51.6,9.2],[-50.9,9.7],[-50.25,9.2],[-49.55,8.5],[-49.05,9.0],[-48.4,9.2],[-47.45,9.0],[-46.55,9.4],[-45.6,9.0],[-44.9,8.8],
[-44.2,9.4],[-43.5,7.6],[-43.05,6.2],[-42.6,5.5],[-41.9,5.1],[-41.2,3.9],[-40.75,1.4],[-40.4,0.6],[-40.05,3.0],[-39.6,4.4],
[-38.9,5.3],[-38.2,7.1],[-37.3,8.1],[-36.35,8.5],[-35.65,9.1],[-35.2,8.5],[-34.7,5.8],[-34.25,3.0],[-33.8,0.7],[-33.5,1.2],
[-33.1,5.8],[-32.6,6.2],[-32.2,4.8],[-31.7,3.7],[-31.0,3.2],[-30.3,3.5],[-29.9,3.9],[-28.9,3.9],[-28.0,4.1],[-27.1,4.6],
[-26.2,5.5],[-25.2,6.7],[-24.3,7.6],[-23.4,7.6],[-22.7,7.1],[-22.0,7.8],[-21.1,8.5],[-20.1,9.7],[-19.2,10.4],[-18.3,10.6],
[-17.6,10.7],[-17.1,9.9],[-16.4,9.2],[-16.0,8.8],[-15.5,9.9],[-15.0,10.8],[-14.1,11.0],[-13.2,10.9],[-12.3,11.1],[-11.3,11.2],
[-10.4,10.8],[-9.7,9.4],[-9.0,8.5],[-8.3,8.8],[-7.4,9.0],[-6.5,9.4],[-5.6,9.8],[-4.9,9.7],[-4.2,9.6],[-3.5,9.4],
[-2.5,8.5],[-1.6,8.1],[-0.7,7.8],[0.2,7.6],[1.2,7.4],[2.1,6.7],[2.8,5.8],[3.5,6.0],[4.4,5.5],[5.3,4.8],
[6.25,5.3],[7.2,5.1],[8.1,4.1],[9.0,3.9],[10.0,4.1],[10.9,3.7],[11.8,4.1],[12.7,4.6],[13.7,4.8],[14.6,5.5],
[15.05,6.7],[15.5,5.8],[16.4,5.1],[17.4,5.5],[18.3,5.8],[19.2,5.3],[20.1,4.4],[21.1,3.7],[22.0,3.3],[23.4,3.3],
[24.7,2.8],[25.4,2.2],[26.1,2.5],[27.0,3.0],[27.9,3.5],[28.8,3.7],[29.8,3.2],[30.7,3.3],[31.6,3.5],[32.5,3.7],
[33.0,3.5],[33.7,4.8],[34.4,5.3],[35.3,6.0],[36.25,6.7],[37.2,7.1],[38.1,6.2],[38.8,5.5],[39.5,6.0],[40.2,6.2],
[40.9,5.5],[41.8,5.5],[42.5,5.3],[43.2,5.8],[43.9,6.7],[44.6,6.9],[45.5,7.4],[46.4,7.6],[47.4,8.1],[48.3,7.6],
[49.2,7.8],[50.1,8.1],[51.1,8.3],[52.0,8.5],[52.9,9.0],[53.8,10.4],[54.8,10.7],[55.7,11.1],[56.6,11.2],[57.5,11.3],
[58.5,12.4],[59.4,12.3],[60.3,12.0],[60.8,11.5],[61.25,9.0],[61.7,9.0],[62.6,9.2],[63.6,9.2],[64.5,10.1],[65.4,10.6],
[66.3,11.1],[67.3,11.4],[68.0,10.8],[68.7,9.7],[69.35,7.6],[69.8,6.9],[70.3,6.7],[71.0,7.1],[71.7,8.5],[72.4,9.7],
[73.1,9.9],[73.5,10.8],[74.0,11.6],[74.4,10.1],[74.9,8.5],[75.4,6.2],[75.85,3.9],[76.3,2.3],[76.5,0.5],[77.0,null],
[77.4,3.2],[77.5,3.6]
]

var radPlus = [
[-71.75,22],[-71.6,0.35],[-71.45,22],[-71.35,22],[-71.3,0.7],[-71.15,22],[-68.0,22],[-67.9,0.2],[-67.75,22],[-67.6,22],
[-67.5,0.8],[-67.4,22],[-61.85,22],[-61.7,0.1],[-61.55,22],[-61.05,22],[-60.7,16.1],[-60.4,12.4],[-59.95,11.3],[-59.5,9.9],
[-59.0,10.1],[-58.6,10.6],[-58.1,10.8],[-57.6,10.1],[-57.2,9.9],[-56.7,10.0],[-56.25,9.9],[-55.8,10.4],[-55.3,10.8],[-54.9,10.8],
[-54.4,10.1],[-53.9,10.6],[-53.5,10.5],[-53.0,10.8],[-52.55,11.75],[-52.1,11.4],[-51.6,12.4],[-50.9,12.2],[-50.5,13.4],[-50.1,14.5],
[-49.8,13.6],[-49.3,12.9],[-48.85,14.3],[-48.4,12.9],[-47.9,12.7],[-47.45,12.9],[-47.0,13.0],[-46.5,12.7],[-46.05,12.2],[-45.6,12.0],
[-45.1,11.5],[-44.7,10.8],[-44.2,10.1],[-43.75,9.9],[-43.3,10.1],[-42.8,9.4],[-42.35,10.4],[-41.9,9.7],[-41.45,9.9],[-41.0,9.8],
[-40.5,9.4],[-40.05,9.7],[-39.6,9.8],[-39.1,9.7],[-38.65,9.6],[-38.2,9.4],[-37.7,9.9],[-37.3,9.4],[-36.8,9.0],[-36.3,8.8],
[-35.9,8.8],[-35.4,8.5],[-34.95,8.5],[-34.5,8.1],[-34.3,6.2],[-34.05,4.4],[-33.8,7.0],[-33.1,6.6],[-32.2,6.7],[-31.25,7.1],
[-30.3,7.8],[-29.4,8.5],[-28.5,9.2],[-27.5,9.4],[-26.6,10.1],[-25.7,10.4],[-25.2,9.0],[-24.8,10.8],[-23.8,11.75],[-22.9,11.5],
[-22.45,12.3],[-22.0,11.9],[-21.3,11.5],[-20.8,9.9],[-20.4,10.8],[-19.7,11.75],[-19.0,12.9],[-18.3,13.1],[-17.8,17.05],[-17.4,13.1],
[-16.9,12.7],[-16.4,13.4],[-16.0,14.1],[-15.5,13.6],[-15.05,14.1],[-14.5,16.1],[-14.1,15.2],[-13.65,15.0],[-13.2,14.5],[-12.5,14.7],
[-11.8,14.3],[-11.3,15.4],[-10.9,18.1],[-10.4,14.5],[-10.0,13.1],[-9.5,12.9],[-8.6,12.7],[-7.6,12.5],[-6.7,12.2],[-5.8,12.5],
[-4.9,12.0],[-3.9,11.75],[-3.0,13.4],[-2.5,11.6],[-2.1,10.4],[-1.2,10.1],[-0.2,10.8],[0.2,9.9],[0.7,10.1],[1.6,10.4],
[2.3,11.75],[2.7,16.8],[3.0,10.1],[3.4,22],[3.7,22],[4.0,10.1],[4.6,13.1],[5.1,10.1],[5.6,12.7],[6.0,19.8],
[6.3,9.9],[6.7,9.0],[7.2,8.5],[7.6,8.8],[8.3,9.2],[9.0,10.1],[10.0,10.4],[10.9,9.9],[11.8,9.9],[12.7,9.7],
[13.7,9.9],[14.35,10.1],[14.7,22],[15.05,22],[15.5,9.7],[16.0,9.0],[16.4,8.5],[16.9,9.0],[17.6,10.1],[18.3,10.6],
[19.2,10.8],[19.9,10.6],[20.6,10.1],[21.5,9.9],[22.45,9.7],[23.4,9.0],[23.75,9.2],[24.7,9.0],[25.6,8.1],[26.3,8.8],
[27.0,9.6],[27.7,9.0],[28.4,9.3],[29.1,8.8],[29.8,9.2],[30.7,8.5],[31.6,7.8],[32.3,8.1],[33.0,9.0],[33.5,9.4],
[34.2,9.0],[34.9,9.2],[35.8,8.5],[36.7,8.1],[37.6,7.6],[38.1,8.1],[38.6,7.1],[39.3,8.1],[40.0,7.6],[40.65,8.1],
[41.3,7.8],[42.3,7.4],[43.2,8.1],[44.1,8.3],[45.05,7.8],[46.0,7.6],[46.9,7.4],[47.8,7.4],[48.75,7.1],[49.7,7.3],
[50.6,7.6],[51.3,6.2],[51.76,5.8],[52.2,10.6],[52.7,9.9],[53.4,9.9],[54.3,9.7],[55.2,10.1],[56.2,9.9],[57.1,10.4],
[58.0,9.4],[58.9,9.9],[59.6,8.8],[60.3,9.7],[60.8,10.8],[61.0,22],[61.3,22],[61.5,9.9],[61.7,22],[62.0,22],
[62.2,9.9],[63.0,9.8],[64.0,9.9],[64.5,10.4],[65.2,11.3],[65.9,11.75],[66.6,12.0],[67.0,12.7],[67.7,12.0],[68.4,11.3],
[69.1,10.4],[69.8,10.5],[70.5,9.0],[71.0,9.7],[71.4,9.9],[71.9,10.4],[72.4,11.3],[72.8,12.7],[73.3,14.1],[73.75,15.4],
[74.0,22],[74.2,22],[74.4,11.3],[74.9,9.9],[75.4,9.9],[75.7,9.9],[75.8,22],[76.2,22],[76.76,0.5],[77.0,22],
[77.2,0.5],[77.3,22]
]

var makeTranslateString = function(x,y)
{
    return "translate("+x+","+y+")";
}

var tickText = function(d)
{
    return d<0 ? "\u2212"+Math.abs(d) : ""+d;
}

//grid lines
var drawAxes = function(target,graph,xScale,yScale)
{
    var grid = target.append("g").classed("grid",true)
    grid.selectAll("line.gx")
        .data(xTicks)
        .enter()
        .append("line")
        .attr("x1",function(d){return xScale(d)})
        .attr("x2",function(d){return xScale(d)})
        .attr("y1",0)
        .attr("y2",graph.height)
        .attr("stroke","#e3e3e3")
        .attr("stroke-width",1)
    grid.selectAll("line.gy")
        .data(yTicks)
        .enter()
        .append("line")
        .attr("x1",0)
        .attr("x2",graph.width)
        .attr("y1",function(d){return yScale(d)})
        .attr("y2",function(d){return yScale(d)})
        .attr("stroke","#e3e3e3")
        .attr("stroke-width",1)
}

//box with ticks on all sides
var drawFrame = function(target,graph,xScale,yScale)
{
    var len = 11
    var frame = target.append("g").classed("frame",true)
    var xAxis = d3.axisBottom(xScale).tickValues(xTicks).tickSize(-len).tickFormat(tickText).tickPadding(15.5)
    var xAxisTop = d3.axisTop(xScale).tickValues(xTicks).tickSize(-len).tickFormat("")
    var yAxis = d3.axisLeft(yScale).tickValues(yTicks).tickSize(-len).tickFormat(tickText).tickPadding(7.5)
    var yAxisRight = d3.axisRight(yScale).tickValues(yTicks).tickSize(-len).tickFormat("")

    frame.append("g").attr("transform",makeTranslateString(0,graph.height)).call(xAxis)
    frame.append("g").call(xAxisTop)
    frame.append("g").call(yAxis)
    frame.append("g").attr("transform",makeTranslateString(graph.width,0)).call(yAxisRight)

    frame.selectAll(".domain").attr("stroke","#5f5f5f").attr("stroke-width",1)
    frame.selectAll(".tick line").attr("stroke","#5f5f5f").attr("stroke-width",1)
    frame.selectAll(".tick text")
        .attr("fill","#262626")
        .style("font-size","21px")
        .style("font-family","'Liberation Sans',Arial,Helvetica,sans-serif")
}

var drawSeries = function(target,graph,xScale,yScale,seriesList,colors,widths,clipId)
{
    var line = d3.line()
        .defined(function(d){return d[1]!==null})
        .x(function(d){return xScale(d[0])})
        .y(function(d){return yScale(d[1])})

    var g = target.append("g").attr("clip-path","url(#"+clipId+")")
    g.selectAll("path")
        .data(seriesList)
        .enter()
        .append("path")
        .attr("d",function(s){return line(s)})
        .attr("fill","none")
        .attr("stroke",function(s,i){return colors[i]})
        .attr("stroke-width",function(s,i){return widths[i]})
        .attr("stroke-linejoin","round")
}

var drawLabels = function(target,graph,title)
{
    target.append("text")
        .text(title)
        .attr("text-anchor","middle")
        .attr("x",graph.width/2)
        .attr("y",-9)
        .attr("fill","#000")
        .style("font-size","24px")
        .style("font-weight","bold")

    target.append("text")
        .text("latitude (deg)")
        .attr("text-anchor","middle")
        .attr("x",graph.width/2)
        .attr("y",graph.height+54)
        .attr("fill","#262626")
        .style("font-size","24px")

    target.append("g")
        .attr("transform",makeTranslateString(-42,graph.height/2))
        .append("text")
        .text("wind speed (m/s)")
        .attr("text-anchor","middle")
        .attr("transform","rotate(270)")
        .attr("fill","#262626")
        .style("font-size","24px")
}

var drawLegend = function(target,box,colors,widths)
{
    var legend = target.append("g")
        .classed("legend",true)
        .attr("transform",makeTranslateString(box.x,box.y))
    legend.append("rect")
        .attr("width",box.w)
        .attr("height",box.h)
        .attr("fill","#ffffff")
        .attr("stroke","#7a7a7a")
        .attr("stroke-width",1)
    var entries = legend.selectAll("g.entry")
        .data(seriesNames)
        .enter()
        .append("g")
        .classed("entry",true)
        .attr("transform",function(d,i){return makeTranslateString(0,14.7+i*24)})
    entries.append("line")
        .attr("x1",4.5)
        .attr("x2",45.5)
        .attr("y1",0)
        .attr("y2",0)
        .attr("stroke",function(d,i){return colors[i]})
        .attr("stroke-width",function(d,i){return widths[i]})
    entries.append("text")
        .text(function(d){return d})
        .attr("x",50.5)
        .attr("dy","0.35em")
        .attr("fill","#000")
        .style("font-size","20px")
}

var initGraph = function()
{
    var screen = {width:1239,height:826}
    var graph = {width:1152.7,height:289}
    var colors = ["#0a72c0","#e64a0e","#f3a90c","#d4d4d4"]
    var widths = [2.1,2.1,2.1,2.4]

    var panels = [
        {title:panelTitles[0],left:72.3,top:64.3,series:[karinMinus,karin2Minus,modelMinus,radMinus],
         legend:{x:735,y:8,w:232.7,h:101}},
        {title:panelTitles[1],left:72.3,top:474,series:[karinPlus,karin2Plus,modelPlus,radPlus],
         legend:{x:728.7,y:16.7,w:232,h:101.6}}
    ]

    var svg = d3.select("#fig")
        .attr("width",screen.width)
        .attr("height",screen.height)
        .attr("viewBox","0 0 "+screen.width+" "+screen.height)

    svg.append("rect").attr("width",screen.width).attr("height",screen.height).attr("fill","#fff")

    svg.append("text")
        .text(figTitle)
        .attr("text-anchor","middle")
        .attr("x",72.3+graph.width/2)
        .attr("y",20.5)
        .attr("fill","#1a1a1a")
        .style("font-size","17px")

    var xScale = d3.scaleLinear().domain([-80,80]).range([0,graph.width])
    var yScale = d3.scaleLinear().domain([0,20]).range([graph.height,0])

    var defs = svg.append("defs")

    panels.forEach(function(p,i)
    {
        var clipId = "clip"+i
        defs.append("clipPath").attr("id",clipId)
            .append("rect").attr("x",0).attr("y",0).attr("width",graph.width).attr("height",graph.height)

        var target = svg.append("g")
            .attr("transform",makeTranslateString(p.left,p.top))
        drawAxes(target,graph,xScale,yScale)
        drawSeries(target,graph,xScale,yScale,p.series,colors,widths,clipId)
        drawFrame(target,graph,xScale,yScale)
        drawLabels(target,graph,p.title)
        drawLegend(target,p.legend,colors,widths)
    })
}

initGraph()
</script>
</body>
</html>
